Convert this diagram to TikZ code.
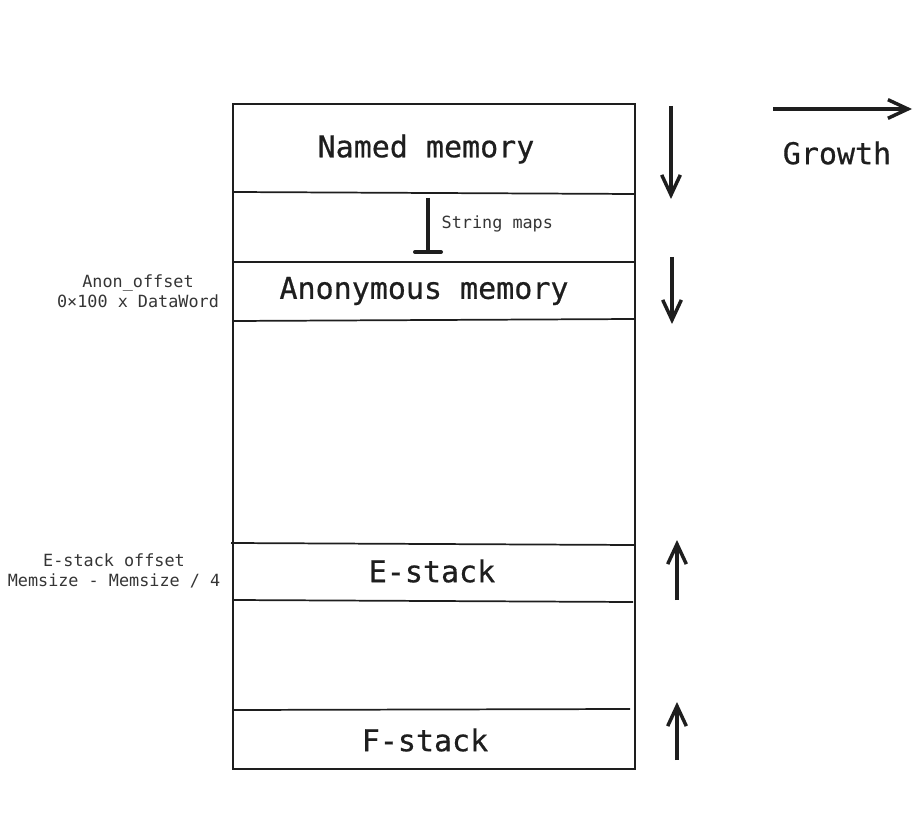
\documentclass[tikz,border=0pt]{standalone}
\usepackage{fontspec}
\setmonofont{DejaVu Sans Mono}
\newfontfamily\heavymono[FakeBold=0.6]{DejaVu Sans Mono}
\usepackage{tikz}
\usetikzlibrary{arrows.meta}
\definecolor{ink}{HTML}{1E1E1E}
\tikzset{
  big/.style={font=\heavymono\fontsize{22.5}{26}\selectfont, text=ink},
  small/.style={font=\ttfamily\fontsize{12.6}{15}\selectfont, text=ink!90, align=center},
  growarrow/.style={draw=ink, line width=2.6pt, -{Straight Barb[length=15pt,width=14pt,line width=2.6pt]}},
  divider/.style={draw=ink, line width=1.3pt}
}

\begin{document}
\begin{tikzpicture}[x=0.75pt,y=-0.75pt]
        \useasboundingbox (0,0) rectangle (924,816);
        \coordinate(TL) at (233,104) {};
        \coordinate(BR) at (635,769) {};
        \draw[ink, line width=1.6pt] (TL) rectangle (BR);
        % dividers
        \coordinate(A1) at (233,192) {};
        \coordinate(A2) at (635,194) {};
        \coordinate(B1) at (233,262) {};
        \coordinate(B2) at (635,262) {};
        \coordinate(C1) at (233,321) {};
        \coordinate(C2) at (635,319) {};
        \coordinate(D1) at (231,543) {};
        \coordinate(D2) at (634,545) {};
        \coordinate(E1) at (233,600) {};
        \coordinate(E2) at (633,602) {};
        \coordinate(F1) at (233,710) {};
        \coordinate(F2) at (630,709) {};
        \draw[divider] (A1)--(A2);
        \draw[divider] (B1)--(B2);
        \draw[divider] (C1)--(C2);
        \draw[divider] (D1)--(D2);
        \draw[divider] (E1)--(E2);
        \draw[divider] (F1)--(F2);
        % regions
        \node[big] (named) at (426,149) {Named memory};
        \node[big] (anon) at (424,291) {Anonymous memory};
        \node[big] (estack) at (432,571) {E-stack};
        \node[big] (fstack) at (425,740) {F-stack};
        % string maps
        \coordinate(S1) at (428,198) {};
        \coordinate(S2) at (428,252) {};
        \coordinate(SL) at (415,252) {};
        \coordinate(SR) at (441,252) {};
        \draw[ink, line width=2.6pt] (S1)--(S2);
        \draw[ink, line width=3pt, line cap=round] (SL)--(SR);
        \node[small, anchor=west] (maps) at (437,224) {String maps};
        % offsets
        \node[small] (anonoff) at (138,291) {Anon\_offset\\0×100 x DataWord};
        \node[small] (eoff) at (114,571) {E-stack offset\\Memsize - Memsize / 4};
        % growth arrows
        \coordinate(G1) at (671,106) {};
        \coordinate(G2) at (671,199) {};
        \coordinate(H1) at (672,257) {};
        \coordinate(H2) at (672,324) {};
        \coordinate(K1) at (677,600) {};
        \coordinate(K2) at (677,540) {};
        \coordinate(L1) at (677,760) {};
        \coordinate(L2) at (677,702) {};
        \draw[growarrow] (G1)--(G2);
        \draw[growarrow] (H1)--(H2);
        \draw[growarrow] (K1)--(K2);
        \draw[growarrow] (L1)--(L2);
        \coordinate(U) at (773,109) {};
        \coordinate(V) at (912,109) {};
        \draw[growarrow] (U)--(V);
        \node[big] (growth) at (837,153) {Growth};
    \end{tikzpicture}
\end{document}
